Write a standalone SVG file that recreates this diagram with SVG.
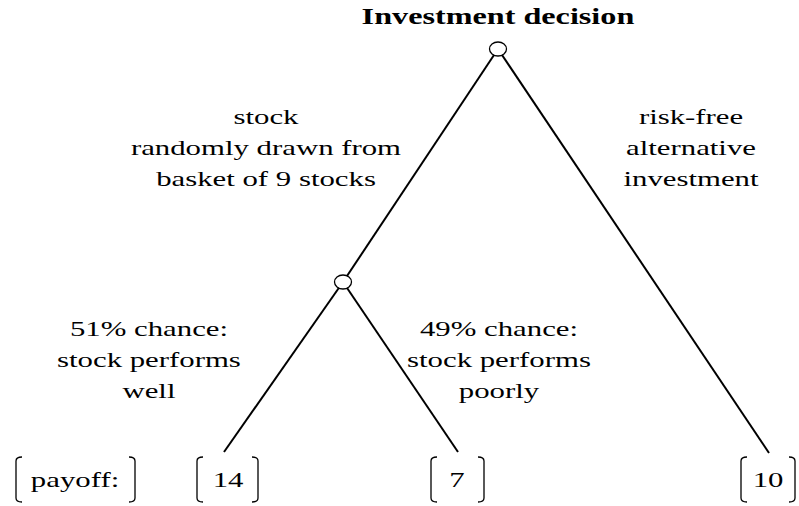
<svg xmlns="http://www.w3.org/2000/svg" width="799" height="506" viewBox="0 0 799 506">
<style>
.lbl{font-size:22px;fill:#000;text-anchor:middle}
.t{font-weight:bold;font-size:23px}
.e{stroke:#000;stroke-width:2;fill:none}
.n{stroke:#000;stroke-width:1.3;fill:#fff}
.b{stroke:#000;stroke-width:1.3;fill:none}
</style>
<rect width="799" height="506" fill="#fff"/>
<g id="connectors">
<line class="e" x1="498" y1="49" x2="343" y2="282"/>
<line class="e" x1="498" y1="49" x2="769" y2="453"/>
<line class="e" x1="343" y1="282" x2="224" y2="452"/>
<line class="e" x1="343" y1="282" x2="458" y2="452"/>
</g>
<g id="root"><ellipse class="n" cx="498" cy="49" rx="8.5" ry="7"/></g>
<g id="chance"><ellipse class="n" cx="343" cy="282" rx="8.5" ry="7"/></g>
<g id="brackets">
<path class="b" d="M22,457 Q16,457 16,461 L16,498 Q16,502 22,502"/>
<path class="b" d="M129,457 Q135,457 135,461 L135,498 Q135,502 129,502"/>
<path class="b" d="M203,457 Q197,457 197,461 L197,498 Q197,502 203,502"/>
<path class="b" d="M252,457 Q258,457 258,461 L258,498 Q258,502 252,502"/>
<path class="b" d="M437,457 Q431,457 431,461 L431,498 Q431,502 437,502"/>
<path class="b" d="M478,457 Q484,457 484,461 L484,498 Q484,502 478,502"/>
<path class="b" d="M747,457 Q741,457 741,461 L741,498 Q741,502 747,502"/>
<path class="b" d="M789,457 Q795,457 795,461 L795,498 Q795,502 789,502"/>
</g>
<g font-family="'Liberation Serif', 'Times New Roman', Tinos, 'DejaVu Serif', 'Noto Serif', FreeSerif, serif" transform="scale(1.4 1)">
<g id="title"><text class="lbl t" x="355.7" y="24">Investment decision</text></g>
<g id="label-stock">
<text class="lbl" x="190" y="124">stock</text>
<text class="lbl" x="190" y="155">randomly drawn from</text>
<text class="lbl" x="190" y="186">basket of 9 stocks</text>
</g>
<g id="label-riskfree">
<text class="lbl" x="493.6" y="124">risk-free</text>
<text class="lbl" x="493.6" y="155">alternative</text>
<text class="lbl" x="493.6" y="186">investment</text>
</g>
<g id="label-well">
<text class="lbl" x="106.4" y="336">51% chance:</text>
<text class="lbl" x="106.4" y="367">stock performs</text>
<text class="lbl" x="106.4" y="398">well</text>
</g>
<g id="label-poorly">
<text class="lbl" x="356.4" y="336">49% chance:</text>
<text class="lbl" x="356.4" y="367">stock performs</text>
<text class="lbl" x="356.4" y="398">poorly</text>
</g>
<g id="payoff"><text class="lbl" x="53.6" y="487">payoff:</text></g>
<g id="leaf-14"><text class="lbl" x="162.9" y="487">14</text></g>
<g id="leaf-7"><text class="lbl" x="326.4" y="487">7</text></g>
<g id="leaf-10"><text class="lbl" x="548.6" y="487">10</text></g>
</g>
</svg>
